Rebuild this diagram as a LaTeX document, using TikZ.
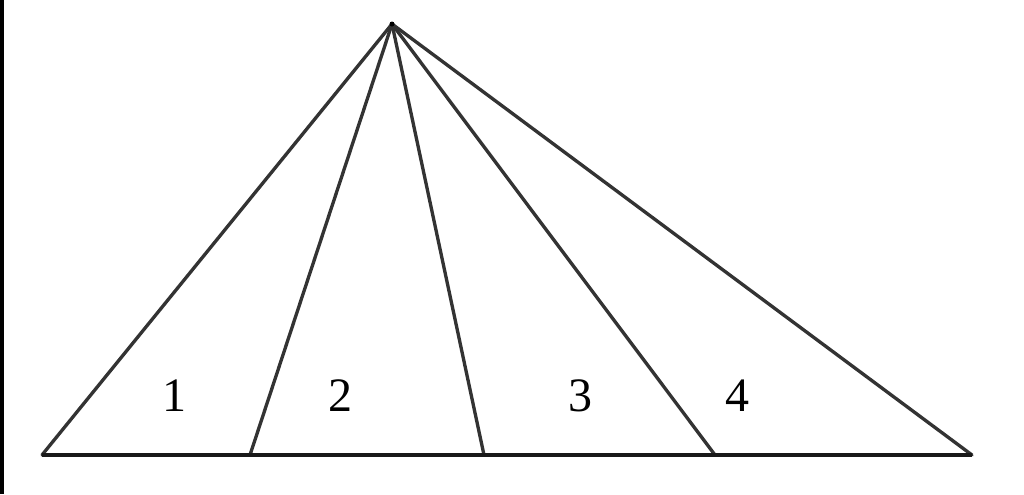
\documentclass[tikz,border=0pt]{standalone}
\usepackage{fontspec}
\setmainfont{Liberation Serif}
\begin{document}
\begin{tikzpicture}[x=0.75pt,y=-0.75pt,
  ray/.style={draw=black!80,line width=2.5pt,line cap=round},
  baseline/.style={draw=black!90,line width=2.9pt},
  lab/.style={font=\fontsize{36}{42}\selectfont,inner sep=0pt}]
\useasboundingbox (0,0) rectangle (1024,494);
\fill[black] (0,0) rectangle (4,494);
\coordinate (A) at (392,24);
\coordinate (B) at (42,455);
\coordinate (C) at (972,455);
\coordinate (D1) at (250,455);
\coordinate (D2) at (484,455);
\coordinate (D3) at (715,455);
\draw[ray] (A) -- (B);
\draw[ray] (A) -- (D1);
\draw[ray] (A) -- (D2);
\draw[ray] (A) -- (D3);
\draw[ray] (A) -- (C);
\draw[baseline] (B) -- (C);
\fill[black] (A) circle (2.5);
\node[lab] (n1) at (174,396) {1};
\node[lab] (n2) at (340,396) {2};
\node[lab] (n3) at (580,396) {3};
\node[lab] (n4) at (737,396) {4};
\end{tikzpicture}
\end{document}
